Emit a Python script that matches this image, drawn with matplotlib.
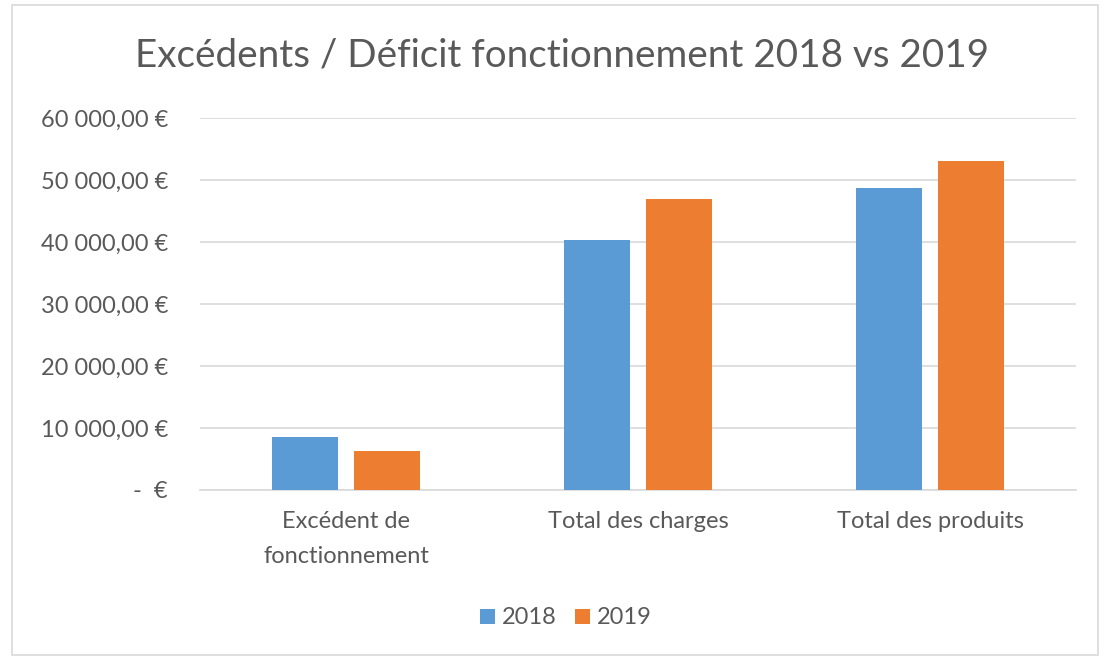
import matplotlib
matplotlib.use("Agg")
import matplotlib.pyplot as plt
import numpy as np
from matplotlib.patches import Rectangle

categories = ["Excédent de\nfonctionnement", "Total des charges", "Total des produits"]
series_names = ["2018", "2019"]
values_2018 = [8500, 40300, 48700]
values_2019 = [6300, 46900, 53100]
yticks = [0, 10000, 20000, 30000, 40000, 50000, 60000]
ytick_labels = ["-  €", "10 000,00 €", "20 000,00 €", "30 000,00 €", "40 000,00 €", "50 000,00 €", "60 000,00 €"]
title = "Excédents / Déficit fonctionnement 2018 vs 2019"

plt.rcParams['font.family'] = ['Lato', 'DejaVu Sans']
W, H = 1109, 662
fig = plt.figure(figsize=(W / 100, H / 100), dpi=100)
fig.patch.set_facecolor("white")

# outer border
fig.add_artist(Rectangle((12 / W, 1 - 655 / H), (1098 - 12) / W, (655 - 5) / H,
                         transform=fig.transFigure, fill=False, edgecolor="#d9d9d9", linewidth=1.2))

left, right, top, bottom = 200, 1076, 118, 490
ax = fig.add_axes([left / W, 1 - bottom / H, (right - left) / W, (bottom - top) / H])

x = np.arange(len(categories))
bw = 0.226
off = 0.142
blue = "#5B9BD5"
orange = "#ED7D31"
ax.bar(x - off, values_2018, width=bw, color=blue, label=series_names[0], zorder=3)
ax.bar(x + off, values_2019, width=bw, color=orange, label=series_names[1], zorder=3)

ax.set_xlim(-0.5, len(categories) - 0.5)
ax.set_ylim(0, 60000)
ax.set_yticks(yticks)
ax.set_yticklabels(ytick_labels)
ax.set_xticks(x)
ax.set_xticklabels(categories, linespacing=1.85)
ax.yaxis.grid(True, color="#d9d9d9", linewidth=1.2, zorder=0)
for s in ["top", "right", "left"]:
    ax.spines[s].set_visible(False)
ax.spines["bottom"].set_color("#d9d9d9")
ax.spines["bottom"].set_linewidth(1.2)
ax.tick_params(axis="both", length=0, colors="#595959", labelsize=17)
ax.tick_params(axis="y", pad=23)
ax.tick_params(axis="x", pad=15)

fig.text(562 / W, 1 - 55 / H, title, ha="center", va="center", fontsize=27.8, color="#595959")

leg = fig.legend(loc="center", bbox_to_anchor=(566 / W, 1 - 618 / H), ncol=2, frameon=False,
                 fontsize=17, handlelength=0.6, handleheight=0.6, columnspacing=0.8, handletextpad=0.3)
for t in leg.get_texts():
    t.set_color("#595959")

fig.savefig("out.png", dpi=100, facecolor="white")
